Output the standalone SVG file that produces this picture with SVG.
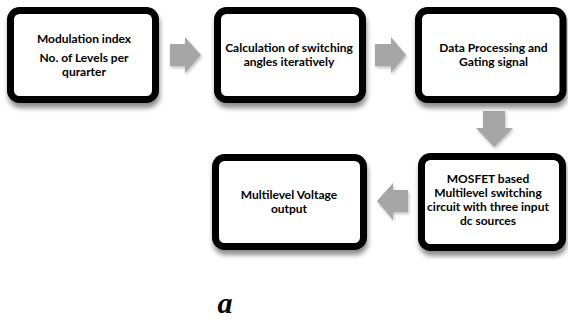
<svg xmlns="http://www.w3.org/2000/svg" width="568" height="320" viewBox="0 0 568 320">
<defs>
<filter id="sh" x="-10%" y="-10%" width="125%" height="135%">
<feGaussianBlur in="SourceAlpha" stdDeviation="2.5"/>
<feOffset dx="1" dy="5" result="b"/>
<feComponentTransfer><feFuncA type="linear" slope="0.45"/></feComponentTransfer>
<feMerge><feMergeNode/><feMergeNode in="SourceGraphic"/></feMerge>
</filter>
<filter id="ash" x="-20%" y="-20%" width="150%" height="150%">
<feGaussianBlur in="SourceAlpha" stdDeviation="1.5"/>
<feOffset dx="1" dy="2"/>
<feComponentTransfer><feFuncA type="linear" slope="0.25"/></feComponentTransfer>
<feMerge><feMergeNode/><feMergeNode in="SourceGraphic"/></feMerge>
</filter>
</defs>
<style>
.box{fill:#fff;stroke:#000;stroke-width:7;filter:url(#sh)}
.t{font-family:Lato,"Open Sans","Liberation Sans",sans-serif;font-weight:bold;font-size:12px;fill:#000;text-anchor:middle}
.arr{fill:#a6a6a6;filter:url(#ash)}
.cap{font-family:"Liberation Serif","DejaVu Serif",serif;font-weight:bold;font-style:italic;font-size:30px;fill:#000;text-anchor:middle}
</style>
<rect width="568" height="320" fill="#fff"/>
<g id="connectors">
<polygon class="arr" points="170,44 185,44 185,37 201,55 185,73 185,66 170,66"/>
<polygon class="arr" points="375,44 391,44 391,37 406,55 391,73 391,66 375,66"/>
<polygon class="arr" points="483,111 505,111 505,128 513,128 494,147 476,128 483,128"/>
<polygon class="arr" points="408,190 393,190 393,183 377,201 393,220 393,212 408,212"/>
</g>
<g id="node1">
<rect class="box" x="10.5" y="10.5" width="145" height="89" rx="9"/>
<text class="t" x="84" y="43">Modulation index</text>
<text class="t" x="84" y="62">No. of Levels per</text>
<text class="t" x="84" y="76">qurarter</text>
</g>
<g id="node2">
<rect class="box" x="217.5" y="10.5" width="145" height="89" rx="9"/>
<text class="t" x="289" y="52">Calculation of switching</text>
<text class="t" x="289" y="66">angles iteratively</text>
</g>
<g id="node3">
<rect class="box" x="418.5" y="10.5" width="144.5" height="89" rx="9"/>
<text class="t" x="493.5" y="52">Data Processing and</text>
<text class="t" x="493.5" y="66">Gating signal</text>
</g>
<g id="node4">
<rect class="box" x="421.5" y="156.5" width="141" height="91" rx="9"/>
<text class="t" x="488" y="183">MOSFET based</text>
<text class="t" x="488" y="197">Multilevel switching</text>
<text class="t" x="488" y="211">circuit with three input</text>
<text class="t" x="488" y="225">dc sources</text>
</g>
<g id="node5">
<rect class="box" x="215.5" y="157.5" width="148" height="89" rx="9"/>
<text class="t" x="289" y="199">Multilevel Voltage</text>
<text class="t" x="289" y="213">output</text>
</g>
<text class="cap" x="225" y="313">a</text>
</svg>
